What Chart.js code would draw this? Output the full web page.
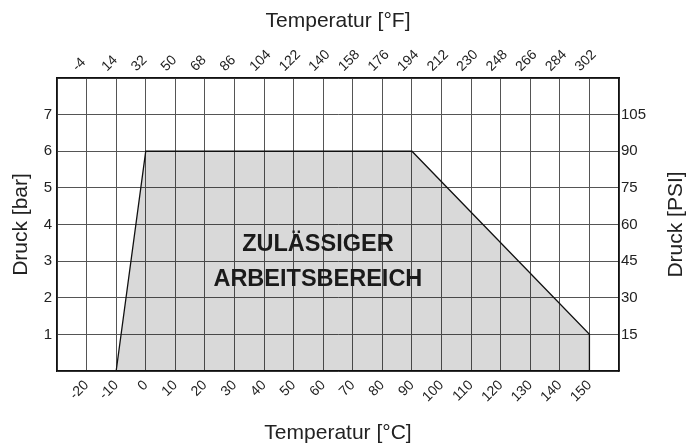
<!DOCTYPE html>
<html>
<head>
<meta charset="utf-8">
<script src="https://cdn.jsdelivr.net/npm/chart.js@4"></script>
<style>
  html, body { margin: 0; padding: 0; background: #fff; }
  #wrap { width: 692px; height: 448px; }
</style>
</head>
<body>
<div id="wrap"><canvas id="chart" width="692" height="448"></canvas></div>
<script>
// Werte aus dem Diagramm
const celsiusTicks = [-20, -10, 0, 10, 20, 30, 40, 50, 60, 70, 80, 90, 100, 110, 120, 130, 140, 150];
const fahrenheitLabels = ['-4', '14', '32', '50', '68', '86', '104', '122', '140', '158', '176', '194', '212', '230', '248', '266', '284', '302'];
const barTicks = [1, 2, 3, 4, 5, 6, 7];
const psiLabels = ['15', '30', '45', '60', '75', '90', '105'];
const areaTemp = [-10, 0, 90, 150, 150];
const areaPressure = [0, 6, 6, 1, 0];
const areaText = ['ZULÄSSIGER', 'ARBEITSBEREICH'];

const FONT = "'Liberation Sans', Arial, Helvetica, sans-serif";
const TXT = '#222';

const points = areaTemp.map((t, i) => ({ x: t, y: areaPressure[i] }));

// Text im Arbeitsbereich + rechter Achsentitel (von unten nach oben gelesen)
const labelPlugin = {
  id: 'areaLabel',
  afterDatasetsDraw(chart) {
    const ctx = chart.ctx;
    const x = chart.scales.x.getPixelForValue(58.2);
    const y1 = chart.scales.y.getPixelForValue(3.44);
    const y2 = chart.scales.y.getPixelForValue(2.49);
    ctx.save();
    ctx.font = "bold 23.5px " + FONT;
    ctx.fillStyle = '#1a1a1a';
    ctx.textAlign = 'center';
    ctx.textBaseline = 'middle';
    ctx.fillText(areaText[0], x, y1);
    ctx.fillText(areaText[1], x, y2);

    const area = chart.chartArea;
    ctx.translate(676, (area.top + area.bottom) / 2);
    ctx.rotate(-Math.PI / 2);
    ctx.font = "21px " + FONT;
    ctx.fillStyle = TXT;
    ctx.fillText('Druck [PSI]', 0, 0);
    ctx.restore();
  }
};

new Chart(document.getElementById('chart'), {
  type: 'line',
  data: {
    datasets: [{
      data: points,
      borderColor: '#111',
      borderWidth: 1.3,
      backgroundColor: 'rgba(0,0,0,0.15)',
      fill: 'origin',
      pointRadius: 0,
      tension: 0
    }]
  },
  options: {
    responsive: false,
    animation: false,
    layout: { padding: 0 },
    plugins: { legend: { display: false }, tooltip: { enabled: false } },
    scales: {
      x: {
        type: 'linear',
        position: 'bottom',
        min: -30,
        max: 160,
        afterFit: s => { s.height = 77; },
        grid: { color: '#555', lineWidth: 1, drawTicks: false },
        border: { color: '#111', width: 1.5 },
        ticks: {
          stepSize: 10,
          minRotation: 45,
          maxRotation: 45,
          padding: 6,
          color: TXT,
          font: { family: FONT, size: 14 },
          callback: v => celsiusTicks.includes(v) ? String(v) : ''
        },
        title: {
          display: true,
          text: 'Temperatur [°C]',
          color: TXT,
          font: { family: FONT, size: 21 },
          padding: { top: 0, bottom: 2 }
        }
      },
      xTop: {
        type: 'linear',
        position: 'top',
        min: -30,
        max: 160,
        afterFit: s => { s.height = 78; },
        grid: { display: false, drawTicks: false },
        border: { color: '#111', width: 1.5 },
        ticks: {
          stepSize: 10,
          minRotation: 45,
          maxRotation: 45,
          padding: 3,
          color: TXT,
          font: { family: FONT, size: 14 },
          callback: v => {
            const i = celsiusTicks.indexOf(v);
            return i >= 0 ? fahrenheitLabels[i] : '';
          }
        },
        title: {
          display: true,
          text: 'Temperatur [°F]',
          color: TXT,
          font: { family: FONT, size: 21 },
          padding: { top: 9, bottom: 0 }
        }
      },
      y: {
        position: 'left',
        min: 0,
        max: 8,
        afterFit: s => { s.width = 57; },
        grid: { color: '#555', lineWidth: 1, drawTicks: false },
        border: { color: '#111', width: 1.5 },
        ticks: {
          stepSize: 1,
          padding: 5,
          color: TXT,
          font: { family: FONT, size: 15 },
          callback: v => barTicks.includes(v) ? String(v) : ''
        },
        title: {
          display: true,
          text: 'Druck [bar]',
          color: TXT,
          font: { family: FONT, size: 21 },
          padding: { top: 9, bottom: 0 }
        }
      },
      yRight: {
        position: 'right',
        min: 0,
        max: 120,
        afterFit: s => { s.width = 73; },
        grid: { display: false, drawTicks: false },
        border: { color: '#111', width: 1.5 },
        ticks: {
          stepSize: 15,
          padding: 2,
          color: TXT,
          font: { family: FONT, size: 15 },
          callback: (v, i) => (i >= 1 && i <= psiLabels.length) ? psiLabels[i - 1] : ''
        },
        title: { display: false }
      }
    }
  },
  plugins: [labelPlugin]
});
</script>
</body>
</html>
